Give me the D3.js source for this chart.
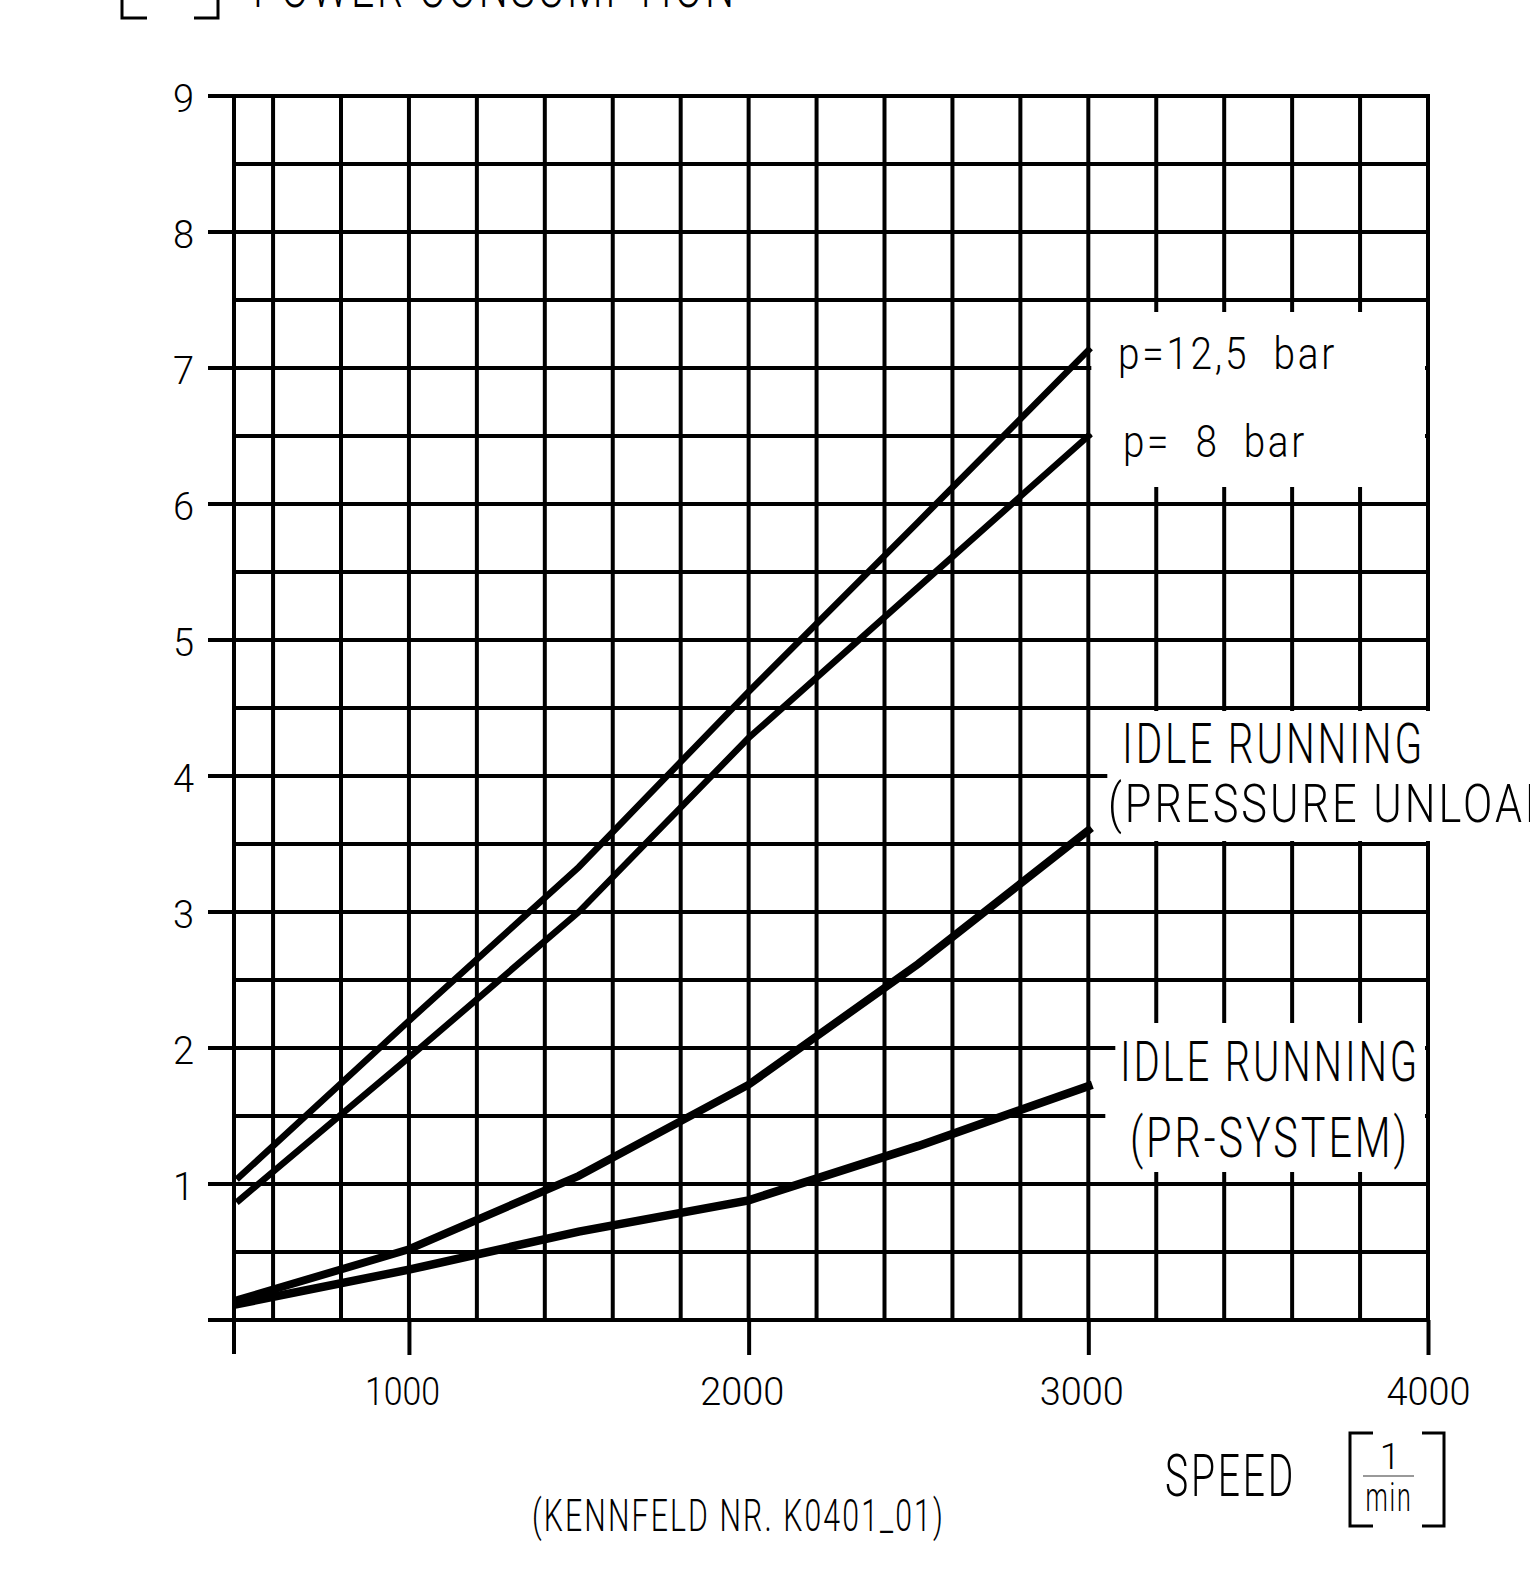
<!DOCTYPE html>
<html>
<head>
<meta charset="utf-8">
<script src="https://cdn.jsdelivr.net/npm/d3@7"></script>
<style>
  html, body { margin: 0; padding: 0; background: #fff; }
  svg { display: block; }
  text { font-family: Roboto, "Liberation Sans Narrow", "DejaVu Sans Condensed", sans-serif; font-weight: 300; fill: #000; white-space: pre; }
</style>
</head>
<body>
<svg id="chart"></svg>
<script>
var speeds = [500, 1000, 1500, 2000, 2500, 3000];

// power consumption [kW] per curve
var p125 = [1.05, 2.20, 3.33, 4.62, 5.87, 7.13];
var p8 = [0.88, 1.93, 3.00, 4.28, 5.39, 6.50];
var idleUnload = [0.15, 0.52, 1.06, 1.73, 2.62, 3.60];
var idlePr = [0.12, 0.37, 0.65, 0.88, 1.28, 1.72];

// axes and grid
var speedTicks = [1000, 2000, 3000, 4000];
var powerTicks = [1, 2, 3, 4, 5, 6, 7, 8, 9];
var powerLines = [0, 1, 2, 3, 4, 5, 6, 7, 8, 9];
var halfLines = [0.5, 1.5, 2.5, 3.5, 4.5, 5.5, 6.5, 7.5, 8.5];
var gridSpeeds = [600, 800, 1000, 1200, 1400, 1600, 1800, 2000, 2200, 2400,
                  2600, 2800, 3000, 3200, 3400, 3600, 3800, 4000];
var speedMin = 485;

function main() {
    const W = 1530, H = 1590;
    const gridW = 4;

    const svg = d3.select('#chart')
        .attr('width', W)
        .attr('height', H);

    const x = d3.scaleLinear().domain([speedMin, 4000]).range([234, 1428]);
    const y = d3.scaleLinear().domain([0, 9]).range([1320, 96]);

    const g = svg.append('g')
        .attr('stroke', '#000')
        .attr('stroke-width', gridW)
        .attr('stroke-linecap', 'square');

    // integer lines reach past the axis to the left
    g.selectAll('line.major')
        .data(powerLines)
        .join('line')
        .attr('class', 'major')
        .attr('x1', 210).attr('x2', x(4000))
        .attr('y1', d => y(d)).attr('y2', d => y(d));

    g.selectAll('line.half')
        .data(halfLines)
        .join('line')
        .attr('class', 'half')
        .attr('x1', x(speedMin)).attr('x2', x(4000))
        .attr('y1', d => y(d)).attr('y2', d => y(d));

    g.selectAll('line.vert')
        .data(gridSpeeds)
        .join('line')
        .attr('class', 'vert')
        .attr('x1', d => x(d)).attr('x2', d => x(d))
        .attr('y1', y(9)).attr('y2', y(0));

    // left border with its tick
    g.append('line')
        .attr('x1', x(speedMin)).attr('x2', x(speedMin))
        .attr('y1', y(9)).attr('y2', y(0) + 32);

    // label boxes cut out of the grid
    const boxes = [
        {x0: x(3000) + 3, x1: x(4000) - 3, y0: y(7.5) + 12, y1: y(6) - 17},
        {x0: x(3000) + 3, x1: W, y0: y(4.5) + 3, y1: y(3.5) - 3},
        {x0: x(3000) + 3, x1: x(4000) - 3, y0: y(2.5) + 43, y1: y(1) - 12}
    ];
    svg.selectAll('rect.mask')
        .data(boxes)
        .join('rect')
        .attr('class', 'mask')
        .attr('x', d => d.x0).attr('y', d => d.y0)
        .attr('width', d => d.x1 - d.x0).attr('height', d => d.y1 - d.y0)
        .attr('fill', '#fff');

    // short leaders into the label boxes
    const leaders = [[4, 19], [2, 27], [1.5, 17]];
    svg.selectAll('line.leader')
        .data(leaders)
        .join('line')
        .attr('class', 'leader')
        .attr('x1', x(3000)).attr('x2', d => x(3000) + d[1])
        .attr('y1', d => y(d[0])).attr('y2', d => y(d[0]))
        .attr('stroke', '#000').attr('stroke-width', gridW);

    // axes (labels and the long speed ticks)
    const xAxis = svg.append('g')
        .attr('transform', `translate(0,${y(0)})`)
        .call(d3.axisBottom(x).tickValues(speedTicks).tickSize(35).tickFormat(d3.format('d')));
    xAxis.select('.domain').remove();
    xAxis.selectAll('.tick line').attr('stroke', '#000').attr('stroke-width', gridW);
    xAxis.selectAll('.tick text')
        .attr('y', 85).attr('dy', null)
        .attr('dx', d => d === 4000 ? 0 : -7)
        .attr('font-size', 39)
        .attr('font-family', null)
        .attr('textLength', d => d === 1000 ? 75 : 84)
        .attr('lengthAdjust', 'spacingAndGlyphs');

    const yAxis = svg.append('g')
        .attr('transform', `translate(194,0)`)
        .call(d3.axisLeft(y).tickValues(powerTicks).tickSize(0).tickPadding(0));
    yAxis.select('.domain').remove();
    yAxis.selectAll('.tick text')
        .attr('x', 0).attr('dy', null).attr('y', 15)
        .attr('font-size', 38)
        .attr('font-family', null);
    xAxis.attr('font-family', null);
    yAxis.attr('font-family', null);

    // curves
    const line = d3.line()
        .x((d, i) => x(speeds[i]))
        .y(d => y(d));

    const curves = [
        {values: p125, width: 6.5},
        {values: p8, width: 6.5},
        {values: idleUnload, width: 8},
        {values: idlePr, width: 8.5}
    ];
    svg.selectAll('path.curve')
        .data(curves)
        .join('path')
        .attr('class', 'curve')
        .attr('d', d => line(d.values))
        .attr('fill', 'none')
        .attr('stroke', '#000')
        .attr('stroke-width', d => d.width)
        .attr('stroke-linejoin', 'miter')
        .attr('stroke-linecap', 'square');

    // text helper: squeeze a label to the measured width
    function label(txt, px, py, size, width, nChars, anchor) {
        const t = svg.append('text')
            .attr('x', px).attr('y', py)
            .attr('font-size', size)
            .attr('letter-spacing', width ? '0.07em' : null)
            .attr('text-anchor', anchor || 'start')
            .text(txt);
        if (width) {
            const node = t.node();
            const full = node.getComputedTextLength();
            const part = nChars ? node.getSubStringLength(0, nChars) : full;
            t.attr('textLength', full * width / part)
             .attr('lengthAdjust', 'spacingAndGlyphs');
        }
        return t;
    }

    label('p=12,5  bar', 1118, 369, 44, 219);
    label('p=  8  bar', 1123, 457, 44, 184);
    label('IDLE RUNNING', 1122, 763, 56, 303);
    label('(PRESSURE UNLOADED)', 1108, 822, 54, 417, 15);
    label('IDLE RUNNING', 1120, 1081, 55, 300);
    label('(PR-SYSTEM)', 1130, 1157, 55, 280);

    label('POWER CONSUMPTION', 253, 7, 56, 484);
    label('SPEED', 1165, 1496, 60, 131);
    label('(KENNFELD NR. K0401_01)', 532, 1531, 45, 413);

    // unit [1/min]
    label('1', 1390, 1469, 37, null, null, 'middle');
    label('min', 1389, 1511, 40, 47, null, 'middle');
    svg.append('line')
        .attr('x1', 1363).attr('x2', 1414)
        .attr('y1', 1476).attr('y2', 1476)
        .attr('stroke', '#999').attr('stroke-width', 2);

    const brackets = [
        'M1373,1433 H1350 V1526 H1373',
        'M1422,1433 H1444 V1526 H1422',
        'M122,0 V18 H147',
        'M194,18 H218 V0'
    ];
    svg.selectAll('path.bracket')
        .data(brackets)
        .join('path')
        .attr('class', 'bracket')
        .attr('d', d => d)
        .attr('fill', 'none')
        .attr('stroke', '#000')
        .attr('stroke-width', 3);
}

main();
</script>
</body>
</html>
